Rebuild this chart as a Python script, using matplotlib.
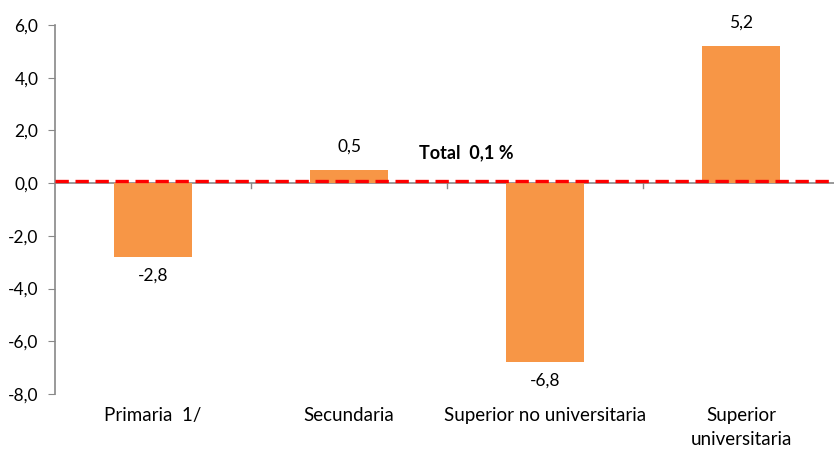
import matplotlib
matplotlib.use("Agg")
import matplotlib.pyplot as plt

categories = ["Primaria  1/", "Secundaria", "Superior no universitaria", "Superior\nuniversitaria"]
values = [-2.8, 0.5, -6.8, 5.2]
value_labels = ["-2,8", "0,5", "-6,8", "5,2"]
total = 0.1
total_label = "Total  0,1 %"
yticks = [-8, -6, -4, -2, 0, 2, 4, 6]
ytick_labels = ["-8,0", "-6,0", "-4,0", "-2,0", "0,0", "2,0", "4,0", "6,0"]

plt.rcParams["font.family"] = ["Lato", "DejaVu Sans"]

W, H = 834, 454
fig = plt.figure(figsize=(W / 100, H / 100), dpi=100)
left_px, right_px = 55, 834
top_px, bot_px = 25, 394
ax = fig.add_axes([left_px / W, 1 - bot_px / H, (right_px - left_px) / W, (bot_px - top_px) / H])

cat_w = 196
xmax = -0.5 + (right_px - left_px) / cat_w
x = list(range(len(categories)))
ax.bar(x, values, width=0.4, color="#F79646", zorder=2)

ax.set_xlim(-0.5, xmax)
ax.set_ylim(-8, 6)

gray = "#888888"
ax.axhline(0, color=gray, lw=1.2, zorder=1)
for b in [0.5, 1.5, 2.5]:
    ax.plot([b, b], [0, -0.18], color=gray, lw=1, zorder=1)

ax.axhline(total, color="#FF0000", lw=2.4, ls=(0, (4, 2)), zorder=3)
ax.text(1.6, 1.15, total_label, fontsize=13, fontweight="bold", ha="center", va="center")

for xi, v, lab in zip(x, values, value_labels):
    if v >= 0:
        ax.text(xi, v + 0.9, lab, ha="center", va="center", fontsize=12.5)
    else:
        ax.text(xi, v - 0.7, lab, ha="center", va="center", fontsize=12.5)

for s in ["top", "right", "bottom"]:
    ax.spines[s].set_visible(False)
ax.spines["left"].set_color(gray)
ax.spines["left"].set_linewidth(1.2)

ax.set_yticks(yticks)
ax.set_yticklabels(ytick_labels, fontsize=12.5)
ax.tick_params(axis="y", direction="out", length=5, color=gray, pad=7)
ax.set_xticks([])

for xi, c in zip(x, categories):
    ax.text(xi, -8.5, c, ha="center", va="top", fontsize=13.5, linespacing=1.5)

fig.savefig("out.png", dpi=100)
